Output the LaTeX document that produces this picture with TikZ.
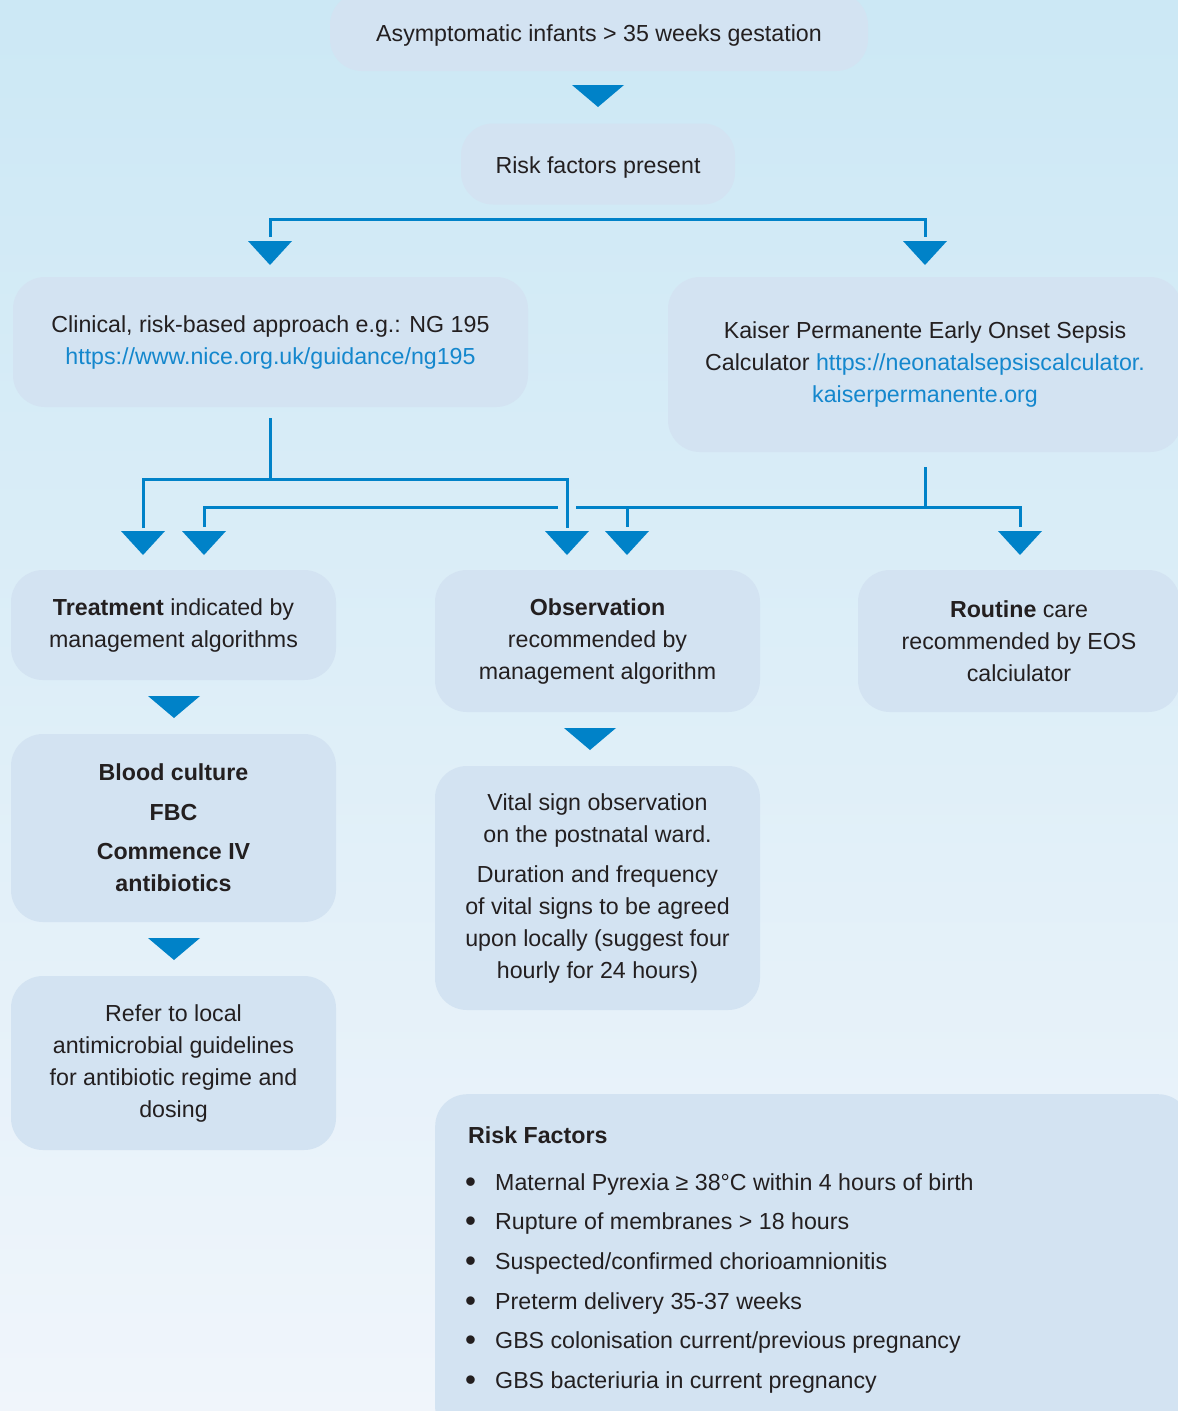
\documentclass[tikz,border=0pt]{standalone}
\usepackage{fontspec}
\setmainfont{Liberation Sans}
\usepackage{graphicx}
\definecolor{bgtop}{RGB}{204,232,245}
\definecolor{bgbot}{RGB}{240,245,251}
\definecolor{boxc}{RGB}{211,227,242}
\definecolor{arrc}{RGB}{0,130,200}
\definecolor{txt}{RGB}{35,31,32}
\definecolor{linkc}{RGB}{20,135,205}
\newcommand{\bul}{\raisebox{-2.5pt}{\scalebox{1.35}{\textbullet}}}
\tikzset{
  box/.style={fill=boxc, rounded corners=32pt, inner sep=0pt, align=center, text=txt,
    font=\fontsize{23.2}{32}\selectfont, execute at begin node={\rule{0pt}{24pt}}},
  conn/.style={draw=arrc, line width=3pt},
  rfline/.style={anchor=base west, inner sep=0pt, text=txt, font=\fontsize{23.2}{32}\selectfont},
  bigtri/.pic={\fill[arrc] (-26,0) -- (26,0) -- (0,22) -- cycle;},
  smalltri/.pic={\fill[arrc] (-22,0) -- (22,0) -- (0,24) -- cycle;}
}
\begin{document}
\begin{tikzpicture}[x=1pt,y=-1pt]
\useasboundingbox (0,0) rectangle (1178,1411);
\clip (0,0) rectangle (1178,1411);
\shade[top color=bgtop, bottom color=bgbot] (0,0) rectangle (1178,1411);

% boxes
\node[box, minimum width=538pt, minimum height=78pt] (top) at (599,32) {Asymptomatic infants > 35 weeks gestation};
\node[box, minimum width=274pt, minimum height=81pt] (risk) at (598,164) {Risk factors present};
\node[box, minimum width=515pt, minimum height=130pt] (clin) at (270.5,342) {Clinical, risk-based approach e.g.: NG 195\\\textcolor{linkc}{https://www.nice.org.uk/guidance/ng195}};
\node[box, minimum width=514pt, minimum height=175pt] (kais) at (925,364.5) {Kaiser Permanente Early Onset Sepsis\\Calculator \textcolor{linkc}{https://neonatalsepsiscalculator.}\\\textcolor{linkc}{kaiserpermanente.org}};
\node[box, minimum width=325pt, minimum height=110pt] (treat) at (173.5,625) {\textbf{Treatment} indicated by\\management algorithms};
\node[box, minimum width=325pt, minimum height=142pt] (obs) at (597.5,641) {\textbf{Observation}\\recommended by\\management algorithm};
\node[box, minimum width=322pt, minimum height=142pt] (rout) at (1019,641) {\textbf{Routine} care\\recommended by EOS\\calciulator};
\node[box, minimum width=325pt, minimum height=188pt] (blood) at (173.5,828) {\textbf{Blood culture}\\[8pt]\textbf{FBC}\\[7pt]\textbf{Commence IV}\\\textbf{antibiotics}};
\node[box, minimum width=325pt, minimum height=244pt] (vital) at (597.5,888) {Vital sign observation\\on the postnatal ward.\\[8pt]Duration and frequency\\of vital signs to be agreed\\upon locally (suggest four\\hourly for 24 hours)};
\node[box, minimum width=325pt, minimum height=174pt] (refer) at (173.5,1063) {Refer to local\\antimicrobial guidelines\\for antibiotic regime and\\dosing};
\node[box, minimum width=755pt, minimum height=346pt, anchor=north west, execute at begin node={}] (rfbox) at (435,1094) {};

% risk factor list
\node[rfline, font=\fontsize{23.2}{32}\selectfont\bfseries] (rfh) at (468,1143) {Risk Factors};
\node[rfline] (rf1) at (465,1190) {\makebox[30pt][l]{\bul}Maternal Pyrexia ≥ 38°C within 4 hours of birth};
\node[rfline] (rf2) at (465,1229) {\makebox[30pt][l]{\bul}Rupture of membranes > 18 hours};
\node[rfline] (rf3) at (465,1269) {\makebox[30pt][l]{\bul}Suspected/confirmed chorioamnionitis};
\node[rfline] (rf4) at (465,1309) {\makebox[30pt][l]{\bul}Preterm delivery 35-37 weeks};
\node[rfline] (rf5) at (465,1348) {\makebox[30pt][l]{\bul}GBS colonisation current/previous pregnancy};
\node[rfline] (rf6) at (465,1388) {\makebox[30pt][l]{\bul}GBS bacteriuria in current pregnancy};

% simple arrows between boxes
\pic at (598,85) {bigtri};
\pic at (174,696) {bigtri};
\pic at (590,728) {bigtri};
\pic at (174,938) {bigtri};

% risk factors bracket
\coordinate (rL) at (270,219);
\coordinate (rR) at (925,219);
\coordinate (rLd) at (270,237);
\coordinate (rRd) at (925,237);
\draw[conn] (rLd) -- (rL) -- (rR) -- (rRd);
\pic at (270,241) {smalltri};
\pic at (925,241) {smalltri};

% clinical connectors
\coordinate (c0) at (270,418);
\coordinate (c1) at (270,479);
\coordinate (cL) at (143,479);
\coordinate (cR) at (567,479);
\coordinate (cLd) at (143,528);
\coordinate (cRd) at (567,528);
\draw[conn] (c0) -- (c1);
\draw[conn] (cLd) -- (cL) -- (cR) -- (cRd);

% kaiser connectors
\coordinate (k0) at (925,467);
\coordinate (k1) at (925,507);
\coordinate (kL) at (204,507);
\coordinate (kg1) at (558,507);
\coordinate (kg2) at (576,507);
\coordinate (kM) at (627,507);
\coordinate (kR) at (1020,507);
\coordinate (kLd) at (204,527);
\coordinate (kMd) at (627,527);
\coordinate (kRd) at (1020,527);
\draw[conn] (k0) -- (k1);
\draw[conn] (kLd) -- (kL) -- (kg1);
\draw[conn] (kg2) -- (kR) -- (kRd);
\draw[conn] (kM) -- (kMd);

\foreach \x in {143,204,567,627,1020} \pic at (\x,531) {smalltri};
\end{tikzpicture}
\end{document}
